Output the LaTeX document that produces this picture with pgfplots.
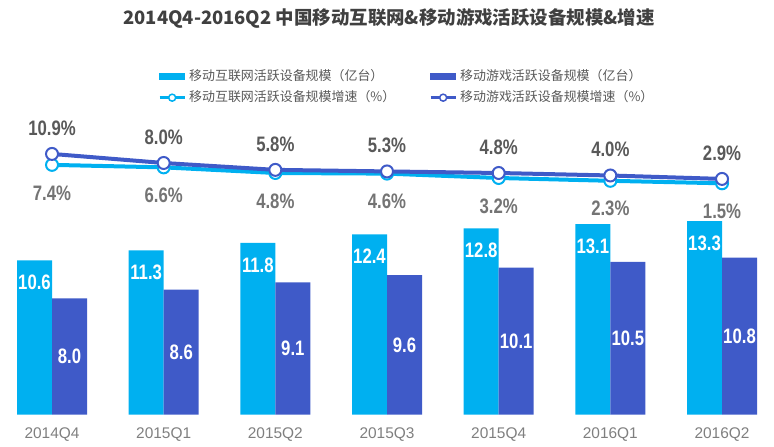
\documentclass[border=0pt]{standalone}
\usepackage{pgfplots}
\pgfplotsset{compat=1.18}
\usepackage{pgfplotstable}
\usepackage{graphicx}
\usepackage{fontspec}
\setmainfont{Liberation Sans}
\newfontfamily\cjk{Noto Sans CJK SC}
\definecolor{lb}{HTML}{00B0F0}
\definecolor{db}{HTML}{3F5AC8}
\definecolor{tgray}{HTML}{595959}
\definecolor{lgray}{HTML}{747474}
\definecolor{xgray}{HTML}{7F7F7F}
\definecolor{titlegray}{HTML}{404040}

\pgfplotstableread{
x light dark lrate drate
0 10.6 8.0 7.4 10.9
1 11.3 8.6 6.6 8.0
2 11.8 9.1 4.8 5.8
3 12.4 9.6 4.6 5.3
4 12.8 10.1 3.2 4.8
5 13.1 10.5 2.3 4.0
6 13.3 10.8 1.5 2.9
}\data

\begin{document}
\begin{tikzpicture}
\useasboundingbox (0,0) rectangle (774bp,447bp);
\node[font=\cjk\bfseries\fontsize{18.5}{18.5}\selectfont, text=titlegray] at (389bp,429bp) {2014Q4-2016Q2 中国移动互联网\&移动游戏活跃设备规模\&增速};

\begin{axis}[
  at={(0bp,32.3bp)}, anchor=south west,
  scale only axis, width=774bp, height=304.7bp,
  xmin=-0.4657, xmax=6.4655, ymin=0, ymax=20.94,
  axis line style={draw=none}, ytick=\empty,
  xtick={0,1,2,3,4,5,6},
  xticklabels={2014Q4,2015Q1,2015Q2,2015Q3,2015Q4,2016Q1,2016Q2},
  major tick length=0pt,
  xticklabel style={anchor=center, yshift=-20bp, font=\fontsize{15.5}{15.5}\selectfont, text=xgray},
  /pgf/number format/assume math mode=true,
  clip=false,
]
\addplot[ybar, bar width=35bp, bar shift=-17.5bp, fill=lb, draw=none] table[x=x,y=light]{\data};
\addplot[ybar, bar width=35bp, bar shift=17.5bp, fill=db, draw=none] table[x=x,y=dark]{\data};
\addplot[draw=none, no markers, point meta=explicit,
  nodes near coords={\scalebox{0.8}[1]{\pgfmathprintnumber[fixed,fixed zerofill,precision=1]{\pgfplotspointmeta}}},
  every node near coord/.append style={anchor=center, xshift=-17.5bp, yshift=-22bp, text=white, font=\bfseries\fontsize{21}{21}\selectfont}
] table[x=x, y=light, meta=light]{\data};
\addplot[draw=none, no markers, point meta=explicit,
  nodes near coords={\scalebox{0.8}[1]{\pgfmathprintnumber[fixed,fixed zerofill,precision=1]{\pgfplotspointmeta}}},
  every node near coord/.append style={anchor=center, xshift=17.5bp, text=white, font=\bfseries\fontsize{21}{21}\selectfont}
] table[x=x, y expr=\thisrow{dark}/2, meta=dark]{\data};
\end{axis}

\begin{axis}[
  at={(0bp,32.3bp)}, anchor=south west,
  scale only axis, width=774bp, height=304.7bp,
  xmin=-0.4657, xmax=6.4655, ymin=-72.54, ymax=24.96,
  hide axis, clip=false,
  /pgf/number format/assume math mode=true,
  legend columns=2,
  legend cell align=left,
  legend style={at={(axis description cs:0.2041,1.1313)}, anchor=north west,
    draw=none, fill=none, inner sep=0pt, row sep=8bp,
    font=\cjk\fontsize{13}{13}\selectfont, text=tgray,
    nodes={inner sep=0pt, text height=10bp, text depth=3bp},
    /tikz/every odd column/.append style={column sep=3bp},
    /tikz/every even column/.append style={column sep=0bp}},
]
\addlegendimage{legend image code/.code={\fill[lb] (0bp,-3bp) rectangle (25bp,3bp);}}
\addlegendimage{legend image code/.code={\fill[db] (0bp,-3bp) rectangle (25bp,3bp);}}
\addplot[lb, line width=4bp, mark=*, mark size=6bp, mark options={fill=white, draw=lb, line width=2bp},
  legend image code/.code={\draw[lb, line width=3bp] (0bp,0bp) -- (25bp,0bp); \draw[lb, fill=white, line width=1.5bp] (12.5bp,0bp) circle (3.5bp);},
  nodes near coords={\scalebox{0.8}[1]{\pgfmathprintnumber[fixed,fixed zerofill,precision=1]{\pgfplotspointmeta}\%}},
  every node near coord/.append style={anchor=center, yshift=-28bp, text=lgray, font=\bfseries\fontsize{21}{21}\selectfont}
] table[x=x,y=lrate]{\data};
\addplot[db, line width=4bp, mark=*, mark size=6bp, mark options={fill=white, draw=db, line width=2bp},
  legend image code/.code={\draw[db, line width=3bp] (0bp,0bp) -- (25bp,0bp); \draw[db, fill=white, line width=1.5bp] (12.5bp,0bp) circle (3.5bp);},
  nodes near coords={\scalebox{0.8}[1]{\pgfmathprintnumber[fixed,fixed zerofill,precision=1]{\pgfplotspointmeta}\%}},
  every node near coord/.append style={anchor=center, yshift=26bp, text=tgray, font=\bfseries\fontsize{21}{21}\selectfont}
] table[x=x,y=drate]{\data};
\legend{\makebox[240bp][l]{移动互联网活跃设备规模（亿台）},移动游戏活跃设备规模（亿台）,\makebox[240bp][l]{移动互联网活跃设备规模增速（\%）},移动游戏活跃设备规模增速（\%）}
\end{axis}
\end{tikzpicture}
\end{document}
